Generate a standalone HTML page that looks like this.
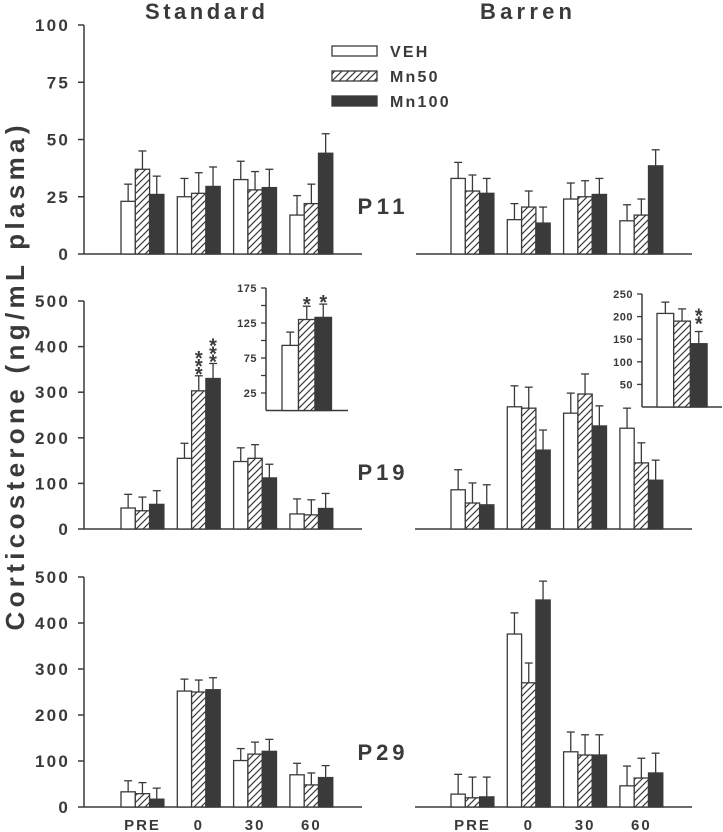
<!DOCTYPE html>
<html><head><meta charset="utf-8"><style>
html,body{margin:0;padding:0;background:#fff;}
svg{display:block;font-family:"Liberation Sans",Arial,sans-serif;font-weight:bold;}
</style></head><body>
<svg id="chart" width="723" height="832" viewBox="0 0 723 832" xmlns="http://www.w3.org/2000/svg">
<defs>
<pattern id="hatch" patternUnits="userSpaceOnUse" width="7" height="7">
<rect width="7" height="7" fill="#fff"/>
<path d="M-1,8 L8,-1 M-1,1 L1,-1 M6,8 L8,6" stroke="#3a3a3a" stroke-width="1.2"/>
</pattern>
</defs>
<text x="205" y="19" font-size="22" text-anchor="middle" fill="#3a3a3a" textLength="120" lengthAdjust="spacing">Standard</text>
<text x="526" y="19" font-size="22" text-anchor="middle" fill="#3a3a3a" textLength="92" lengthAdjust="spacing">Barren</text>
<text transform="translate(24,378) rotate(-90)" font-size="26" text-anchor="middle" fill="#3a3a3a" textLength="505" lengthAdjust="spacing">Corticosterone (ng/mL plasma)</text>
<g>
<rect x="332" y="46" width="45" height="10" fill="#fff" stroke="#3a3a3a" stroke-width="1.3"/>
<text x="390" y="57" font-size="16" fill="#3a3a3a" letter-spacing="2.2">VEH</text>
<rect x="332" y="71" width="45" height="10" fill="url(#hatch)" stroke="#3a3a3a" stroke-width="1.3"/>
<text x="390" y="82" font-size="16" fill="#3a3a3a" letter-spacing="2.2">Mn50</text>
<rect x="332" y="96" width="45" height="10" fill="#3a3a3a" stroke="#3a3a3a" stroke-width="1.3"/>
<text x="390" y="107" font-size="16" fill="#3a3a3a" letter-spacing="2.2">Mn100</text>
</g>
<text x="381" y="214" font-size="22" text-anchor="middle" fill="#3a3a3a" textLength="47" lengthAdjust="spacing">P11</text>
<text x="381" y="480" font-size="22" text-anchor="middle" fill="#3a3a3a" textLength="47" lengthAdjust="spacing">P19</text>
<text x="381" y="760" font-size="22" text-anchor="middle" fill="#3a3a3a" textLength="47" lengthAdjust="spacing">P29</text>
</svg>
<script>
const categories = ["PRE","0","30","60"];
const seriesNames = ["VEH","Mn50","Mn100"];
// P11 Standard
const p11StdMean = [[23,37,26],[25,26.5,29.5],[32.5,28,29],[17,22,44]];
const p11StdErr  = [[7.5,8,8],[8,9,8.5],[8,8,8],[8.5,8.5,8.5]];
// P11 Barren
const p11BarMean = [[33,27.5,26.5],[15,20.5,13.5],[24,25,26],[14.5,17,38.5]];
const p11BarErr  = [[7,7,6.5],[7,7,7],[7,7,7],[7,7,7]];
// P19 Standard
const p19StdMean = [[46,40,54],[155,303,330],[148,155,112],[33,31,45]];
const p19StdErr  = [[30,30,30],[33,33,33],[30,30,30],[33,33,33]];
// P19 Barren
const p19BarMean = [[86,57,53],[268,265,173],[254,296,226],[221,145,107]];
const p19BarErr  = [[44,44,44],[46,46,44],[44,44,44],[44,44,44]];
// P29 Standard
const p29StdMean = [[33,29,17],[252,250,255],[101,115,121],[70,48,64]];
const p29StdErr  = [[24,24,24],[26,26,26],[26,26,26],[25,26,26]];
// P29 Barren
const p29BarMean = [[28,20,22],[376,270,450],[120,113,113],[46,63,74]];
const p29BarErr  = [[43,45,43],[46,43,41],[43,44,44],[43,43,43]];
// Insets
const insetStdMean = [93,130,133];
const insetStdErr = [19,19,19];
const insetBarMean = [207,190,140];
const insetBarErr = [25,27,27];
const p11Ticks = [0,25,50,75,100];
const bigTicks = [0,100,200,300,400,500];
const insetStdTicks = [25,50,75,100,125,150,175];
const insetStdLabels = ["25","","75","","125","","175"];
const insetBarTicks = [50,100,150,200,250];

const C = "#3a3a3a";
const svg = document.getElementById('chart');
const NS = "http://www.w3.org/2000/svg";
function mk(tag, attrs, parent){
  const e = document.createElementNS(NS, tag);
  for (const k in attrs) e.setAttribute(k, attrs[k]);
  (parent||svg).appendChild(e);
  return e;
}
const fills = ["#fff","url(#hatch)",C];

function drawBars(g, means, errs, xStart, groupStep, barW, y, name){
  means.forEach((grp, gi) => {
    grp.forEach((v, si) => {
      const x = xStart + gi*groupStep + si*barW;
      const yt = y(v), ye = y(v + errs[gi][si]);
      const cx = x + barW/2;
      const eb = mk('line', {x1:cx, x2:cx, y1:yt, y2:ye, stroke:C, 'stroke-width':1.3}, g);
      
      
      const cap = mk('line', {x1:cx-4, x2:cx+4, y1:ye, y2:ye, stroke:C, 'stroke-width':1.3}, g);
      
      
      const r = mk('rect', {x:x, y:yt, width:barW, height:y(0)-yt, fill:fills[si], stroke:C, 'stroke-width':1.3}, g);
      
      
    });
  });
}

function panel(name, base, top, maxV, ticks, means, errs, axisX0, axisX1, barStart, withYAxis, xLabels){
  const g = mk('g', {});
  
  
  const y = v => base - (v/maxV)*(base-top);
  if (withYAxis){
    const ax = mk('line', {x1:axisX0, x2:axisX0, y1:y(maxV), y2:base, stroke:C, 'stroke-width':1.5}, g);
    
    
    ticks.forEach(t => {
      const tk = mk('line', {x1:axisX0-6, x2:axisX0, y1:y(t), y2:y(t), stroke:C, 'stroke-width':1.5}, g);
      
      
      const tl = mk('text', {x:axisX0-14, y:y(t)+6, 'font-size':17, 'text-anchor':'end', fill:C, 'letter-spacing':2.2}, g);
      tl.textContent = String(t);
      
      
    });
  }
  const xa = mk('line', {x1:axisX0, x2:axisX1, y1:base, y2:base, stroke:C, 'stroke-width':1.5}, g);
  
  
  drawBars(g, means, errs, barStart, 56.3, 14.3, y, name);
  if (xLabels){
    categories.forEach((c, i) => {
      const t = mk('text', {x:barStart + i*56.3 + 21.5, y:base+23, 'font-size':15, 'text-anchor':'middle', fill:C, 'letter-spacing':2}, g);
      t.textContent = c;
      
      
    });
  }
}

panel('p11-standard', 254, 25, 100, p11Ticks, p11StdMean, p11StdErr, 84, 362, 121, true, false);
panel('p11-barren', 254, 25, 100, p11Ticks, p11BarMean, p11BarErr, 416, 692, 451, false, false);
panel('p19-standard', 529, 301, 500, bigTicks, p19StdMean, p19StdErr, 84, 362, 121, true, false);
panel('p19-barren', 529, 301, 500, bigTicks, p19BarMean, p19BarErr, 415, 692, 451, false, false);
panel('p29-standard', 807, 577, 500, bigTicks, p29StdMean, p29StdErr, 84, 362, 121, true, true);
panel('p29-barren', 807, 577, 500, bigTicks, p29BarMean, p29BarErr, 415, 692, 451, false, true);

function inset(name, axisX, axisX1, base, top, maxV, ticks, labels, means, errs, barStart, barW){
  const g = mk('g', {});
  
  
  const y = v => base - (v/maxV)*(base-top);
  const ax = mk('line', {x1:axisX, x2:axisX, y1:y(maxV), y2:base, stroke:C, 'stroke-width':1.5}, g);
  
  
  const xa = mk('line', {x1:axisX, x2:axisX1, y1:base, y2:base, stroke:C, 'stroke-width':1.5}, g);
  
  
  ticks.forEach((t, i) => {
    const tk = mk('line', {x1:axisX-5, x2:axisX, y1:y(t), y2:y(t), stroke:C, 'stroke-width':1.3}, g);
    
    
    if (labels[i]){
      const tl = mk('text', {x:axisX-9, y:y(t)+4, 'font-size':11, 'text-anchor':'end', fill:C, 'letter-spacing':0.5}, g);
      tl.textContent = labels[i];
      
      
    }
  });
  means.forEach((v, si) => {
    const x = barStart + si*barW, cx = x + barW/2;
    const yt = y(v), ye = y(v + errs[si]);
    const eb = mk('line', {x1:cx, x2:cx, y1:yt, y2:ye, stroke:C, 'stroke-width':1.3}, g);
    
    
    const cap = mk('line', {x1:cx-4, x2:cx+4, y1:ye, y2:ye, stroke:C, 'stroke-width':1.3}, g);
    
    
    const r = mk('rect', {x:x, y:yt, width:barW, height:base-yt, fill:fills[si], stroke:C, 'stroke-width':1.3}, g);
    
    
  });
  return y;
}
const yIS = inset('inset-standard', 266, 348, 410.5, 288, 175, insetStdTicks, insetStdLabels, insetStdMean, insetStdErr, 282, 16.5);
const yIB = inset('inset-barren', 642, 722, 407, 294, 250, insetBarTicks, insetBarTicks.map(String), insetBarMean, insetBarErr, 657, 16.7);

function star(x, errTop, n, name){
  for (let i = 0; i < n; i++){
    const t = mk('text', {x:x, y:errTop + 5 - i*8, 'font-size':20, 'text-anchor':'middle', fill:C});
    t.textContent = '*';
    
    
  }
}
star(282 + 16.5*1.5, yIS(insetStdMean[1] + insetStdErr[1]), 1, 'inset-standard-star-mn50');
star(282 + 16.5*2.5, yIS(insetStdMean[2] + insetStdErr[2]), 1, 'inset-standard-star-mn100');
const yP19 = v => 529 - v*(228/500);
star(121 + 56.3 + 14.3*1.5, yP19(p19StdMean[1][1] + p19StdErr[1][1]), 3, 'p19-standard-star-mn50');
star(121 + 56.3 + 14.3*2.5, yP19(p19StdMean[1][2] + p19StdErr[1][2]), 3, 'p19-standard-star-mn100');
star(657 + 16.7*2.5, yIB(insetBarMean[2] + insetBarErr[2]) - 6, 2, 'inset-barren-star-mn100');
</script>
</body></html>
